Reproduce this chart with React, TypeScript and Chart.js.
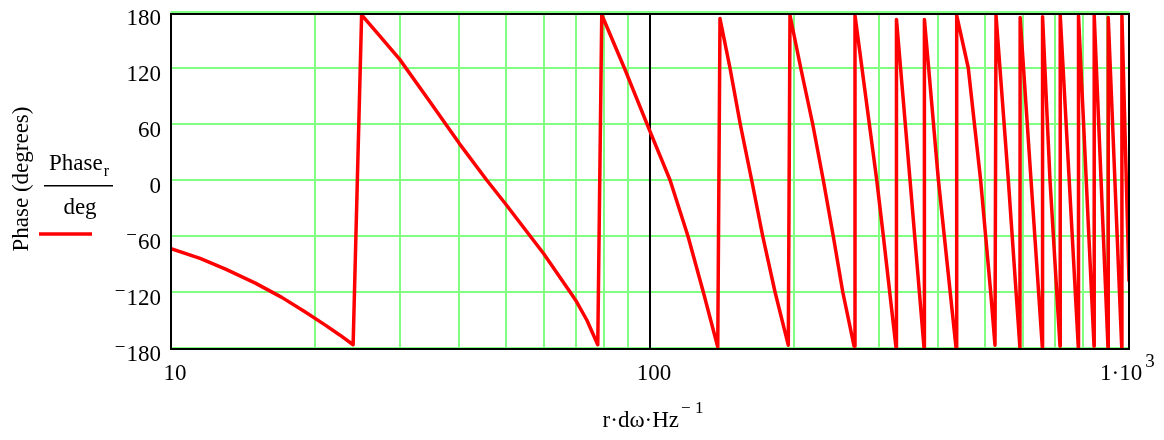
import React, { useEffect, useRef } from "react";
import { Chart, registerables } from "chart.js";

Chart.register(...registerables);

// ---- Data ----
const freqHz: number[] = [
  10, 11.5, 13, 15, 17, 19, 21, 22.5, 24.0,
  25.0, 27.1, 30, 34.6, 40, 45.6, 50, 56.2, 60, 68.1, 70, 73.8, 77.8,
  79.3, 88.4, 100, 110.1, 120, 129.2, 138.5,
  140, 146.9, 154.3, 163, 171.9, 182.4, 194.4,
  196, 206.4, 218.6, 230, 241.3, 252.6, 266.7,
  267.9, 287, 297.4, 307, 326.3,
  327, 349, 373.3,
  374, 400, 435.4,
  436.8, 461.8, 490, 514.3, 525.1,
  527.7, 559.8, 592,
  592.6, 624.4, 659.2,
  660, 684, 717.8,
  718.5, 783.7,
  784.5, 845.3,
  846, 904,
  905, 965.6,
  966.5, 1000,
];

const phaseDeg: number[] = [
  -73.5, -84, -95.5, -110.5, -125.5, -141, -155.5, -166, -176.5,
  177, 156, 129.5, 85, 39, 0, -26, -60, -79, -120, -129, -150, -176.5,
  177, 120, 52, 0, -60, -120, -179,
  173, 120, 60, 0, -60, -120, -177,
  176.5, 120, 60, 0, -60, -120, -178,
  176.5, 60, 0, -60, -179.5,
  172, 0, -179.5,
  172, 0, -179.5,
  176.5, 120, 0, -120, -177,
  176.5, 0, -179.5,
  174, 0, -179,
  175, 0, -178,
  176.5, -179,
  176, -178,
  176.5, -179.5,
  174, -179,
  176, -108,
];

const xGridValues: number[] = [
  10, 20, 30, 40, 50, 60, 70, 80, 90,
  100, 200, 300, 400, 500, 600, 700, 800, 900, 1000,
];
const xDecadeValues: number[] = [100];
const xLabelValues: number[] = [10, 100, 1000];
const yMin = -180;
const yMax = 180;
const yStep = 60;

const seriesName = "Phase";
const seriesSub = "r";
const seriesUnit = "deg";
const yTitle = "Phase (degrees)";
const xTitleMain = "r·dω·Hz";
const xTitleSup = "− 1";

const RED = "#ff0000";
const GREEN = "#80ff80";
const SERIF = "'Liberation Serif', 'Times New Roman', Times, serif";

const overlay = {
  id: "mathcadOverlay",
  beforeDatasetsDraw(chart: any) {
    const { ctx, chartArea: ca, scales } = chart;
    const xs = scales.x;
    const ys = scales.y;
    ctx.save();
    ctx.strokeStyle = GREEN;
    ctx.lineWidth = 2;
    ctx.beginPath();
    for (let v = yMin; v <= yMax; v += yStep) {
      const py = Math.round(ys.getPixelForValue(v));
      ctx.moveTo(ca.left, py);
      ctx.lineTo(ca.right, py);
    }
    xGridValues.forEach((v) => {
      if (xDecadeValues.includes(v)) return;
      const px = Math.round(xs.getPixelForValue(v));
      ctx.moveTo(px, ca.top);
      ctx.lineTo(px, ca.bottom);
    });
    ctx.stroke();
    ctx.strokeStyle = "#000";
    ctx.lineWidth = 2;
    ctx.beginPath();
    xDecadeValues.forEach((v) => {
      const px = Math.round(xs.getPixelForValue(v));
      ctx.moveTo(px, ca.top + 2);
      ctx.lineTo(px, ca.bottom);
    });
    ctx.stroke();
    ctx.restore();
  },
  afterDatasetsDraw(chart: any) {
    const { ctx, chartArea: ca, scales } = chart;
    const xs = scales.x;
    const ys = scales.y;
    ctx.save();
    // plot frame
    ctx.strokeStyle = "#000";
    ctx.lineWidth = 2;
    ctx.strokeRect(ca.left, ca.top + 2, ca.right - ca.left, ca.bottom + 1 - (ca.top + 2));

    ctx.fillStyle = "#000";
    ctx.textBaseline = "alphabetic";

    // y tick labels (Mathcad-style raised minus)
    ctx.textAlign = "right";
    for (let v = yMin; v <= yMax; v += yStep) {
      const py = ys.getPixelForValue(v);
      const right = ca.left - 10;
      const digits = String(Math.abs(v));
      ctx.font = `23px ${SERIF}`;
      ctx.fillText(digits, right, py + 13);
      if (v < 0) {
        const w = ctx.measureText(digits).width;
        ctx.font = `19px ${SERIF}`;
        ctx.fillText("\u2212", right - w - 1, py + 5);
      }
    }

    // x tick labels
    xLabelValues.forEach((v) => {
      const px = xs.getPixelForValue(v);
      if (v >= 1000) {
        const exp = Math.round(Math.log10(v));
        ctx.textAlign = "left";
        ctx.font = `23px ${SERIF}`;
        const main = "1·10";
        const left = px - 29;
        ctx.fillText(main, left, 380);
        const w = ctx.measureText(main).width;
        ctx.font = `19px ${SERIF}`;
        ctx.fillText(String(exp), left + w + 3, 367);
      } else {
        ctx.textAlign = "center";
        ctx.font = `23px ${SERIF}`;
        ctx.fillText(String(v), px + 4, 380);
      }
    });

    // x axis title
    ctx.font = `23px ${SERIF}`;
    const wMain = ctx.measureText(xTitleMain).width;
    ctx.font = `17px ${SERIF}`;
    const wSup = ctx.measureText(xTitleSup).width;
    const total = wMain + 2 + wSup;
    const cx = (ca.left + ca.right) / 2 + 3;
    const x0 = cx - total / 2;
    ctx.textAlign = "left";
    ctx.font = `23px ${SERIF}`;
    ctx.fillText(xTitleMain, x0, 427);
    ctx.font = `17px ${SERIF}`;
    ctx.fillText(xTitleSup, x0 + wMain + 2, 413);

    // y axis title (rotated)
    ctx.save();
    ctx.translate(22, 179);
    ctx.rotate(-Math.PI / 2);
    ctx.textAlign = "center";
    ctx.textBaseline = "middle";
    ctx.font = `23px ${SERIF}`;
    ctx.fillText(yTitle, 0, 0);
    ctx.restore();

    // legend: Phase_r / deg with line sample
    ctx.textAlign = "left";
    ctx.textBaseline = "alphabetic";
    ctx.font = `23px ${SERIF}`;
    ctx.fillText(seriesName, 49, 170);
    const wn = ctx.measureText(seriesName).width;
    ctx.font = `16px ${SERIF}`;
    ctx.fillText(seriesSub, 49 + wn + 1, 175.5);
    ctx.fillRect(44, 185, 69, 1.5);
    ctx.textAlign = "center";
    ctx.font = `23px ${SERIF}`;
    ctx.fillText(seriesUnit, 80, 213.5);

    ctx.strokeStyle = RED;
    ctx.lineWidth = 3.5;
    ctx.beginPath();
    ctx.moveTo(39, 234);
    ctx.lineTo(92, 234);
    ctx.stroke();
    ctx.restore();
  },
};

export default function App() {
  const ref = useRef<HTMLCanvasElement>(null);
  useEffect(() => {
    document.body.style.margin = "0";
    const canvas = ref.current;
    if (!canvas) return;
    const points = freqHz.map((f, i) => ({ x: f, y: phaseDeg[i] }));
    const chart = new Chart(canvas, {
      type: "line",
      data: {
        datasets: [
          {
            data: points,
            borderColor: RED,
            backgroundColor: RED,
            borderWidth: 3.5,
            pointRadius: 0,
            tension: 0,
            fill: false,
            borderJoinStyle: "round",
            borderCapStyle: "round",
          } as any,
        ],
      },
      options: {
        responsive: false,
        animation: false,
        devicePixelRatio: 1,
        parsing: false as any,
        layout: { padding: { left: 171, right: 35, top: 12, bottom: 92 } },
        plugins: { legend: { display: false }, tooltip: { enabled: false } },
        scales: {
          x: { type: "logarithmic", min: 10, max: 1000, display: false },
          y: { type: "linear", min: yMin, max: yMax, display: false },
        },
      } as any,
      plugins: [overlay],
    });
    return () => chart.destroy();
  }, []);
  return (
    <div style={{ width: 1164, height: 440 }}>
      <canvas ref={ref} width={1164} height={440} style={{ display: "block" }} />
    </div>
  );
}
